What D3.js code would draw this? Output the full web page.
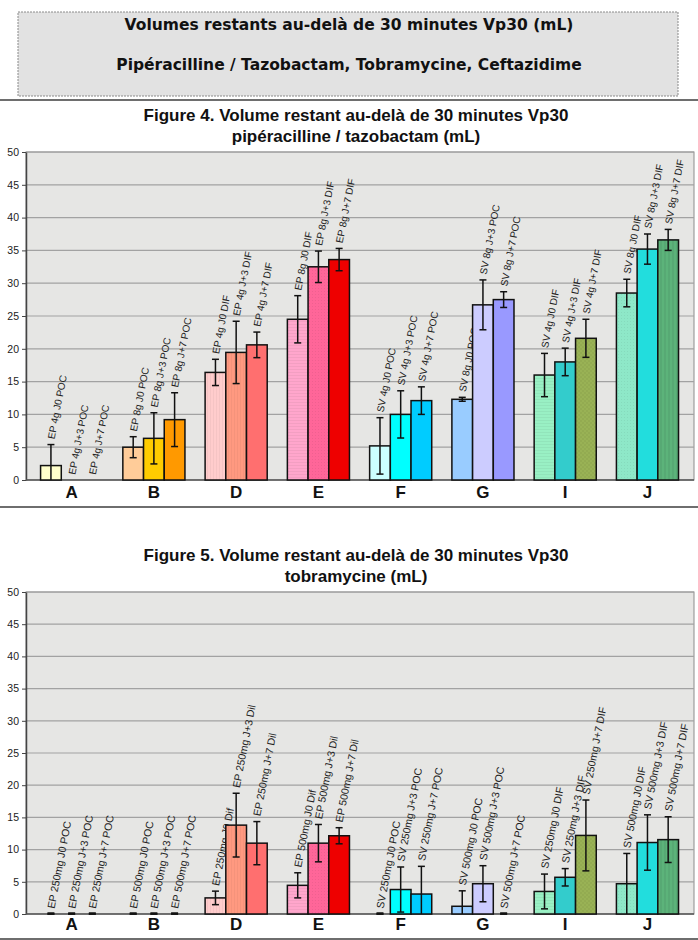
<!DOCTYPE html>
<html><head><meta charset="utf-8">
<script src="https://cdn.jsdelivr.net/npm/d3@7"></script>
<style>body{margin:0;background:#fff}</style></head>
<body>
<script>
// ---------- DATA ----------
const groups = ["A", "B", "D", "E", "F", "G", "I", "J"];
const yTicks = [0, 5, 10, 15, 20, 25, 30, 35, 40, 45, 50];

const fig4Labels = [
  ["EP 4g J0 POC", "EP 4g J+3 POC", "EP 4g J+7 POC"],
  ["EP 8g J0 POC", "EP 8g J+3 POC", "EP 8g J+7 POC"],
  ["EP 4g J0 DIF", "EP 4g J+3 DIF", "EP 4g J+7 DIF"],
  ["EP 8g J0 DIF", "EP 8g J+3 DIF", "EP 8g J+7 DIF"],
  ["SV 4g J0 POC", "SV 4g J+3 POC", "SV 4g J+7 POC"],
  ["SV 8g J0 POC", "SV 8g J+3 POC", "SV 8g J+7 POC"],
  ["SV 4g J0 DIF", "SV 4g J+3 DIF", "SV 4g J+7 DIF"],
  ["SV 8g J0 DIF", "SV 8g J+3 DIF", "SV 8g J+7 DIF"]
];
const fig4Values = [
  [2.2, null, null],
  [5.0, 6.35, 9.2],
  [16.4, 19.45, 20.6],
  [24.5, 32.5, 33.6],
  [5.2, 10.0, 12.1],
  [12.3, 26.7, 27.5],
  [16.0, 18.0, 21.6],
  [28.5, 35.2, 36.6]
];
const fig4Sd = [
  [3.2, null, null],
  [1.6, 3.9, 4.1],
  [2.0, 4.75, 1.95],
  [3.6, 2.4, 1.7],
  [4.3, 3.6, 2.1],
  [0.3, 3.8, 1.2],
  [3.3, 2.1, 2.9],
  [2.1, 2.3, 1.6]
];

const fig5Labels = [
  ["EP 250mg J0 POC", "EP 250mg J+3 POC", "EP 250mg J+7 POC"],
  ["EP 500mg J0 POC", "EP 500mg J+3 POC", "EP 500mg J+7 POC"],
  ["EP 250mg J0 Dif", "EP 250mg J+3 Dil", "EP 250mg J+7 Dil"],
  ["EP 500mg J0 Dif", "EP 500mg J+3 Dil", "EP 500mg J+7 Dil"],
  ["SV 250mg J0 POC", "SV 250mg J+3 POC", "SV 250mg J+7 POC"],
  ["SV 500mg J0 POC", "SV 500mg J+3 POC", "SV 500mg J+7 POC"],
  ["SV 250mg J0 DIF", "SV 250mg J+3 DIF", "SV 250mg J+7 DIF"],
  ["SV 500mg J0 DIF", "SV 500mg J+3 DIF", "SV 500mg J+7 DIF"]
];
const fig5Values = [
  [0, 0, 0],
  [0, 0, 0],
  [2.5, 13.8, 11.0],
  [4.45, 11.0, 12.15],
  [0, 3.8, 3.1],
  [1.2, 4.7, 0],
  [3.5, 5.7, 12.2],
  [4.7, 11.1, 11.55]
];
const fig5Sd = [
  [0, 0, 0],
  [0, 0, 0],
  [1.05, 4.95, 3.35],
  [1.95, 2.9, 1.25],
  [0, 3.5, 4.3],
  [2.4, 2.8, 0],
  [2.7, 1.35, 5.5],
  [4.7, 4.3, 3.55]
];

const barColors = [
  ["#ffffcc", "#ffffcc", "#ffffcc"],
  ["#ffcc99", "#ffcc00", "#ff9900"],
  ["#ffcccc", "#ff9980", "#ff6f6f"],
  ["#ffa6cc", "#ff6699", "#ee0000"],
  ["#ccffff", "#00ffff", "#00ccff"],
  ["#99ccff", "#ccccff", "#9999ff"],
  ["#99f0c4", "#33cccc", "#99b255"],
  ["#8ee8c8", "#22dddd", "#5cb37a"]
];
const barPatterns = [
  ["none", "none", "none"],
  ["none", "none", "none"],
  ["vline", "vline", "none"],
  ["hline", "dots", "none"],
  ["none", "none", "none"],
  ["none", "none", "none"],
  ["hline", "none", "check"],
  ["dots", "none", "vstripe"]
];

// ---------- DRAW ----------
const W = 698, H = 940;
const svg = d3.select("body").append("svg").attr("width", W).attr("height", H)
  .style("font-family", "'Liberation Sans', Arial, sans-serif");
const defs = svg.append("defs");

function patternFill(color, type) {
  if (type === "none") return color;
  const id = "p" + color.replace("#", "") + type;
  if (defs.select("#" + id).empty()) {
    const dark = d3.color(color).darker(0.35).formatHex();
    const p = defs.append("pattern").attr("id", id).attr("patternUnits", "userSpaceOnUse");
    if (type === "vline") {
      p.attr("width", 3).attr("height", 3);
      p.append("rect").attr("width", 3).attr("height", 3).attr("fill", color);
      p.append("rect").attr("width", 1).attr("height", 3).attr("fill", dark).attr("opacity", 0.35);
    } else if (type === "hline") {
      p.attr("width", 3).attr("height", 3);
      p.append("rect").attr("width", 3).attr("height", 3).attr("fill", color);
      p.append("rect").attr("width", 3).attr("height", 1).attr("fill", dark).attr("opacity", 0.4);
    } else if (type === "dots") {
      p.attr("width", 3).attr("height", 3);
      p.append("rect").attr("width", 3).attr("height", 3).attr("fill", color);
      p.append("rect").attr("width", 1).attr("height", 1).attr("fill", dark).attr("opacity", 0.5);
    } else if (type === "check") {
      p.attr("width", 4).attr("height", 4);
      p.append("rect").attr("width", 4).attr("height", 4).attr("fill", color);
      p.append("rect").attr("width", 2).attr("height", 2).attr("fill", dark).attr("opacity", 0.35);
      p.append("rect").attr("x", 2).attr("y", 2).attr("width", 2).attr("height", 2).attr("fill", dark).attr("opacity", 0.35);
    } else if (type === "vstripe") {
      p.attr("width", 4).attr("height", 4);
      p.append("rect").attr("width", 4).attr("height", 4).attr("fill", color);
      p.append("rect").attr("width", 2).attr("height", 4).attr("fill", dark).attr("opacity", 0.45);
    }
  }
  return "url(#" + id + ")";
}

// Header box
svg.append("rect").attr("x", 18).attr("y", 12).attr("width", 660).attr("height", 84)
  .attr("fill", "#e2e2e2").attr("stroke", "#8a8a8a").attr("stroke-dasharray", "2,1");
svg.append("text").attr("x", 349).attr("y", 30).attr("text-anchor", "middle")
  .style("font-family", "'DejaVu Sans', Verdana, sans-serif").style("font-weight", "bold")
  .style("font-size", "15.5px").attr("fill", "#111")
  .text("Volumes restants au-delà de 30 minutes Vp30 (mL)");
svg.append("text").attr("x", 349).attr("y", 70).attr("text-anchor", "middle")
  .style("font-family", "'DejaVu Sans', Verdana, sans-serif").style("font-weight", "bold")
  .style("font-size", "15.5px").attr("fill", "#111")
  .text("Pipéracilline / Tazobactam, Tobramycine, Ceftazidime");

function sepLine(y) {
  svg.append("line").attr("x1", 0).attr("x2", W).attr("y1", y).attr("y2", y)
    .attr("stroke", "#6e6e6e").attr("stroke-width", 2);
}
sepLine(100);

function drawChart(cfg) {
  const left = 26, right = 694;
  const g = svg.append("g");
  cfg.titles.forEach((t, i) => {
    g.append("text").attr("x", 356).attr("y", cfg.titleY + i * 21).attr("text-anchor", "middle")
      .style("font-weight", "bold").style("font-size", "17px").attr("fill", "#111").text(t);
  });
  const y = d3.scaleLinear().domain([0, 50]).range([cfg.bottom, cfg.top]);
  const xo = d3.scaleBand().domain(groups).range([30.5, 688.6]).paddingInner(0).paddingOuter(0);
  const xi = d3.scaleBand().domain([0, 1, 2]).range([0, xo.bandwidth()]).paddingInner(0).paddingOuter(0.487);

  g.append("rect").attr("x", left).attr("y", cfg.top).attr("width", right - left)
    .attr("height", cfg.bottom - cfg.top).attr("fill", "#e6e6e4").attr("stroke", "#8c8c8c").attr("stroke-width", 1);
  g.selectAll("line.grid").data(yTicks.filter(d => d > 0)).join("line")
    .attr("x1", left).attr("x2", right).attr("y1", d => y(d)).attr("y2", d => y(d))
    .attr("stroke", "#a2a2a2").attr("stroke-width", 1.2);

  const ax = g.append("g").attr("transform", `translate(${left},0)`)
    .call(d3.axisLeft(y).tickValues(yTicks).tickSize(4).tickSizeOuter(0).tickPadding(3));
  ax.select(".domain").attr("stroke", "#444").attr("stroke-width", 1.5);
  ax.selectAll(".tick line").attr("stroke", "#444");
  ax.selectAll(".tick text").style("font-size", "10.5px").style("font-family", "'Liberation Sans', Arial, sans-serif").attr("fill", "#222");

  g.append("line").attr("x1", left).attr("x2", right).attr("y1", y(0)).attr("y2", y(0))
    .attr("stroke", "#555").attr("stroke-width", 1.5);

  groups.forEach((grp, gi) => {
    for (let k = 0; k < 3; k++) {
      const v = cfg.values[gi][k];
      const sd = cfg.sd[gi][k];
      const bx = xo(grp) + xi(k);
      const bw = xi.bandwidth();
      const cx = bx + bw / 2;
      if (v !== null && v > 0) {
        g.append("rect").attr("x", bx).attr("y", y(v)).attr("width", bw).attr("height", y(0) - y(v))
          .attr("fill", patternFill(barColors[gi][k], barPatterns[gi][k]))
          .attr("stroke", "#111").attr("stroke-width", 1.5);
      }
      let topY = v === null ? y(0) : y(v);
      if (v !== null && sd !== null) {
        const hi = y(v + sd), lo = y(Math.max(0, v - sd));
        const eg = g.append("g").attr("stroke", "#111").attr("stroke-width", 1.5);
        eg.append("line").attr("x1", cx).attr("x2", cx).attr("y1", hi).attr("y2", lo);
        eg.append("line").attr("x1", cx - 3.5).attr("x2", cx + 3.5).attr("y1", hi).attr("y2", hi);
        if (v - sd > 0) eg.append("line").attr("x1", cx - 3.5).attr("x2", cx + 3.5).attr("y1", lo).attr("y2", lo);
        else if (sd === 0) eg.append("line").attr("x1", cx - 3.5).attr("x2", cx + 3.5).attr("y1", y(0) - 0.5).attr("y2", y(0) - 0.5).attr("stroke-width", 2.5);
        topY = hi;
      }
      g.append("text").attr("transform", `translate(${cx + 3.5},${topY - 5}) rotate(-79)`)
        .style("font-size", cfg.labelSize).attr("fill", "#222").text(cfg.labels[gi][k]);
    }
    g.append("text").attr("x", xo(grp) + xo.bandwidth() / 2).attr("y", cfg.letterY).attr("text-anchor", "middle")
      .style("font-weight", "bold").style("font-size", "17px").attr("fill", "#111").text(grp);
  });
  sepLine(cfg.sepY);
}

drawChart({
  titles: ["Figure 4. Volume restant au-delà de 30 minutes Vp30", "pipéracilline / tazobactam (mL)"],
  titleY: 121, top: 152, bottom: 480, letterY: 498, sepY: 507,
  values: fig4Values, sd: fig4Sd, labels: fig4Labels, labelSize: "10px"
});
drawChart({
  titles: ["Figure 5. Volume restant au-delà de 30 minutes Vp30", "tobramycine (mL)"],
  titleY: 561, top: 592, bottom: 914, letterY: 930, sepY: 939,
  values: fig5Values, sd: fig5Sd, labels: fig5Labels, labelSize: "10.5px"
});
</script>
</body></html>
